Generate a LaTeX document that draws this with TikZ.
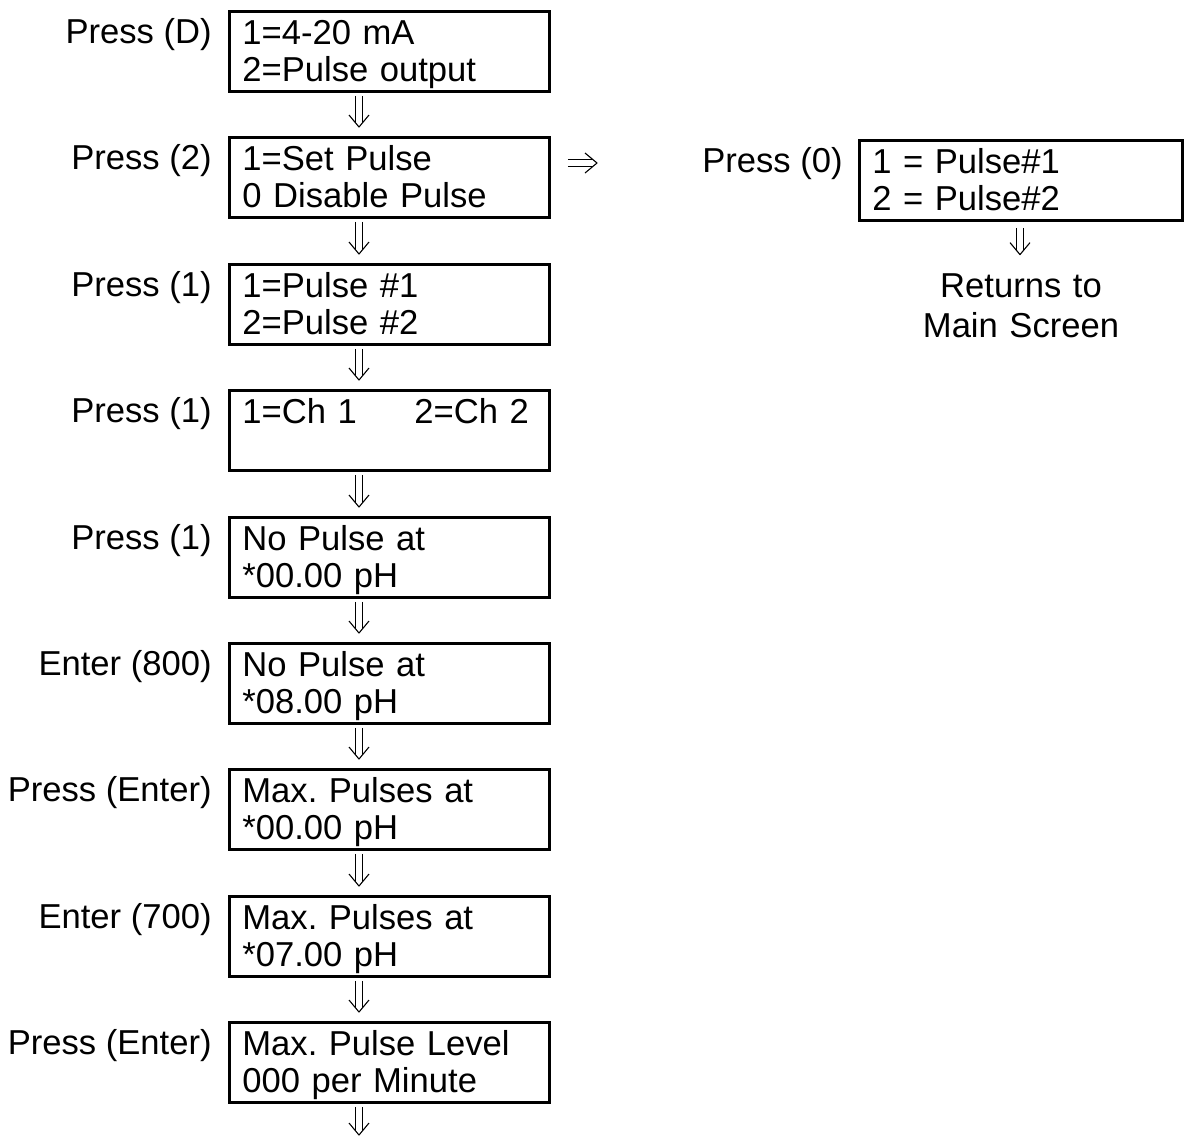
\documentclass[tikz,border=0pt]{standalone}
\usepackage{fontspec}
\setmainfont{Liberation Sans}
\usetikzlibrary{calc,decorations.markings}
\begin{document}
\frenchspacing
\begin{tikzpicture}[x=0.5pt,y=-0.5pt,
  every node/.style={font=\fontsize{17.3}{18.5}\selectfont},
  scr/.style={draw, line width=1.4pt, anchor=north west, inner xsep=6.5pt, inner ysep=0pt,
    text width=147pt, minimum width=160pt, minimum height=40pt,
    text height=16.5pt, text depth=23.5pt, align=left},
  lbl/.style={anchor=base east, inner sep=0pt},
  stem/.style 2 args={draw, line width=0.45pt, shorten <=#1, shorten >=#2+1.9pt},
  head/.style={postaction={decorate, decoration={markings, mark=at position -#1 with
      {\draw[line width=0.55pt, line join=round] (-6pt,5pt) -- (0pt,0pt) -- (-6pt,-5pt);}}}},
  vimp/.style 2 args={
    preaction={stem={#1}{#2}, transform canvas={xshift=1.55pt}},
    preaction={stem={#1}{#2}, transform canvas={xshift=-1.55pt}},
    head=#2},
  himp/.style 2 args={
    preaction={stem={#1}{#2}, transform canvas={yshift=1.55pt}},
    preaction={stem={#1}{#2}, transform canvas={yshift=-1.55pt}},
    head=#2},
]
\useasboundingbox (0,0) rectangle (1184,1137);
\coordinate (ax) at (359,0);
\coordinate (rx) at (1020,0);

\node[scr] (b1) at (228,10)   {1=4-20 mA\\2=Pulse output};
\node[scr] (b2) at (228,136)  {1=Set Pulse\\0 Disable Pulse};
\node[scr] (b3) at (228,263)  {1=Pulse \#1\\2=Pulse \#2};
\node[scr] (b4) at (228,389)  {\makebox[86pt][l]{1=Ch 1}2=Ch 2};
\node[scr] (b5) at (228,516)  {No Pulse at\\{}*00.00 pH};
\node[scr] (b6) at (228,642)  {No Pulse at\\{}*08.00 pH};
\node[scr] (b7) at (228,768)  {Max. Pulses at\\{}*00.00 pH};
\node[scr] (b8) at (228,895)  {Max. Pulses at\\{}*07.00 pH};
\node[scr] (b9) at (228,1021) {Max. Pulse Level\\000 per Minute};

\node[lbl] (l1) at ($(b1.north west)+(-16,33)$) {Press (D)};
\node[lbl] (l2) at ($(b2.north west)+(-16,33)$) {Press (2)};
\node[lbl] (l3) at ($(b3.north west)+(-16,33)$) {Press (1)};
\node[lbl] (l4) at ($(b4.north west)+(-16,33)$) {Press (1)};
\node[lbl] (l5) at ($(b5.north west)+(-16,33)$) {Press (1)};
\node[lbl] (l6) at ($(b6.north west)+(-16,33)$) {Enter (800)};
\node[lbl] (l7) at ($(b7.north west)+(-16,33)$) {Press (Enter)};
\node[lbl] (l8) at ($(b8.north west)+(-16,33)$) {Enter (700)};
\node[lbl] (l9) at ($(b9.north west)+(-16,33)$) {Press (Enter)};

\node[scr, text width=148.5pt, minimum width=161.5pt] (r1) at (858,139) {1 = Pulse\#1\\2 = Pulse\#2};
\node[lbl] (lr) at ($(r1.north west)+(-15,33)$) {Press (0)};
\node[anchor=base, align=center, text width=150pt, inner sep=0pt, text height=12.5pt] (ret) at (1021,297) {Returns to\\[1.5pt]Main Screen};

\foreach \a/\b in {b1/b2,b2/b3,b3/b4,b4/b5,b5/b6,b6/b7,b7/b8,b8/b9}
  \path[vimp={1.5pt}{4.5pt}] (\a.south -| ax) -- (\b.north -| ax);
\coordinate (end) at (359,1136);
\path[vimp={1.5pt}{0.5pt}] (b9.south -| ax) -- (end);

\coordinate (re) at (598,163);
\path[himp={8.5pt}{0.5pt}] (b2.east |- re) -- (re);

\path[vimp={3pt}{8.5pt}] (r1.south -| rx) -- (ret.north -| rx);
\end{tikzpicture}
\end{document}
